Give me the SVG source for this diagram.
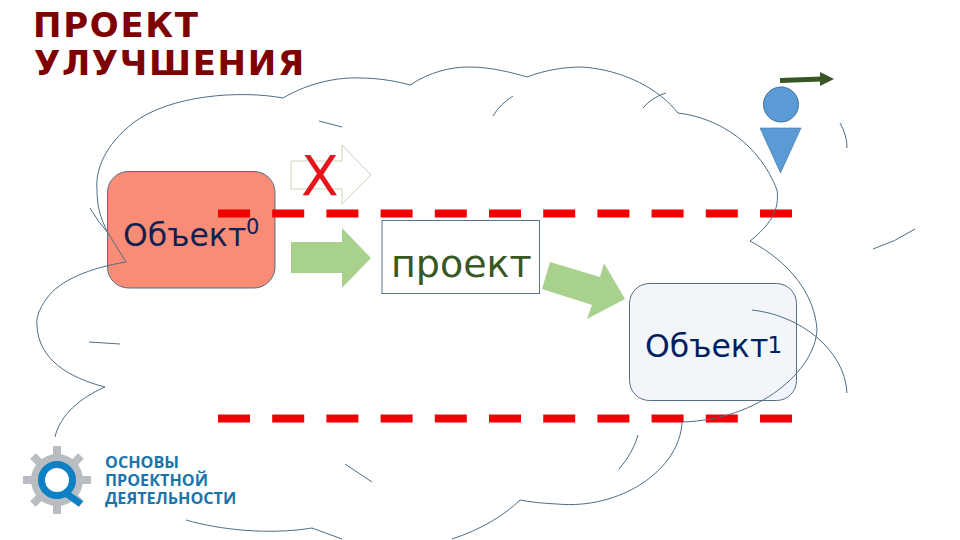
<svg xmlns="http://www.w3.org/2000/svg" width="960" height="540" viewBox="0 0 960 540">
<style>
.cloud{fill:none;stroke:#4f6d85;stroke-width:1}
.box{stroke:#566f85;stroke-width:1}
.t{font-family:"DejaVu Sans",sans-serif}
.obj{font-size:31.500px}
.sup{font-size:21px}
.logo{font-family:"Open Sans",sans-serif;font-weight:700;font-size:16.200px;fill:#1b75ab}
.title{font-family:"DejaVu Sans",sans-serif;font-weight:700;font-size:34px;fill:#7f0000;letter-spacing:1.700px}
.dash{stroke:#f00000;stroke-width:8;stroke-dasharray:32 22.2;fill:none}
</style>
<rect width="960" height="540" fill="#fff"/>
<g id="title"><text class="title" x="33" y="37">ПРОЕКТ</text><text class="title" x="34" y="75">УЛУЧШЕНИЯ</text></g>
<g id="object0"><rect class="box" x="107.500" y="171.500" width="167.500" height="116.500" rx="21" fill="#f88c76"/></g>
<g id="object1"><rect class="box" x="629.500" y="283.500" width="167" height="117" rx="20" fill="#f2f6fb"/></g>
<g id="project"><rect x="382" y="220.500" width="157.500" height="73" fill="#fff" stroke="#56758a" stroke-width="1"/><text class="t" x="391" y="277" font-size="38" fill="#385723">проект</text></g>
<g id="connectors">
<polygon points="291,161 342,161 342,145 371,175 342,204 342,189 291,189" fill="none" stroke="#c6d6b4" stroke-width="1"/>
<polygon points="291,242 342,242 342,228 371,258 342,288 342,273 291,273" fill="#a9d18e"/>
<polygon points="550,262 600,277 604,263 625,299 587,319 592,305 542,289" fill="#a9d18e"/>
<path class="dash" d="M218,213.500H792"/>
<path class="dash" d="M218,418.500H792"/>
<path d="M780,80.500L822,79" fill="none" stroke="#375623" stroke-width="5"/>
<polygon points="820,72 834,79 820,86" fill="#375623"/>
</g>
<g id="cloud">
<path class="cloud" d="M283,98C240,90 170,95 133,123C105,145 95,170 97,190C97,205 100,218 108,233L126,262C90,268 60,280 47,298C38,310 36,320 37,325C38,360 70,378 105,387C80,398 60,415 55,437"/>
<path class="cloud" d="M283,98C310,82 340,77 360,78C380,78 400,82 410,85C430,72 450,67 469,67C490,67 510,72 527,77C545,70 565,67 582,67C625,70 660,90 678,113C720,118 760,145 777,190C780,210 770,225 750,241C790,262 815,295 817,330C815,370 760,420 682,422C680,470 620,510 557,504Q535,503 520,500C505,515 480,530 452,539"/>
<path class="cloud" d="M186,520C220,530 270,535 312,528L342,539"/>
<path class="cloud" d="M319,121L342,127"/>
<path class="cloud" d="M90,208Q98,222 108,233"/>
<path class="cloud" d="M89,342L120,344"/>
<path class="cloud" d="M345,464L372,482"/>
<path class="cloud" d="M513,96Q500,104 493,116"/>
<path class="cloud" d="M666,93Q652,97 643,108"/>
<path class="cloud" d="M840,123Q847,135 847,148"/>
<path class="cloud" d="M915,229Q895,242 873,249"/>
<path class="cloud" d="M752,310C800,315 845,350 847,393"/>
<path class="cloud" d="M638,435Q633,453 619,469"/>
</g>
<g id="labels">
<text class="t obj" x="123" y="246" fill="#10204f">Объект</text><text class="t sup" x="246" y="234" fill="#10204f">0</text>
<text class="t obj" x="645" y="357" fill="#002060">Объект</text><text class="t sup" x="767.500" y="353" font-size="23" style="font-size:23px" fill="#002060">1</text>
<text class="t" x="301" y="195" font-size="55" fill="#e8141c">X</text>
</g>
<g id="person">
<circle cx="781" cy="104.500" r="17.500" fill="#5b9bd5" stroke="#41719c"/>
<polygon points="760,128 801,128 780.500,173" fill="#5b9bd5" stroke="#41719c" stroke-width=".6"/>
</g>
<g id="logo">
<g fill="#b9bcc0">
<rect x="53" y="446" width="8" height="68"/>
<rect x="53" y="446" width="8" height="68" transform="rotate(45 57 480)"/>
<rect x="53" y="446" width="8" height="68" transform="rotate(90 57 480)"/>
<rect x="53" y="446" width="8" height="68" transform="rotate(135 57 480)"/>
<circle cx="57" cy="480" r="26"/>
</g>
<line x1="67" y1="494" x2="81" y2="504" stroke="#0f80c4" stroke-width="7"/>
<circle cx="57" cy="480" r="15.500" fill="#fff" stroke="#0f80c4" stroke-width="7"/>
<text class="logo" x="105" y="468">ОСНОВЫ</text>
<text class="logo" x="105" y="486">ПРОЕКТНОЙ</text>
<text class="logo" x="105" y="504">ДЕЯТЕЛЬНОСТИ</text>
</g>
</svg>
